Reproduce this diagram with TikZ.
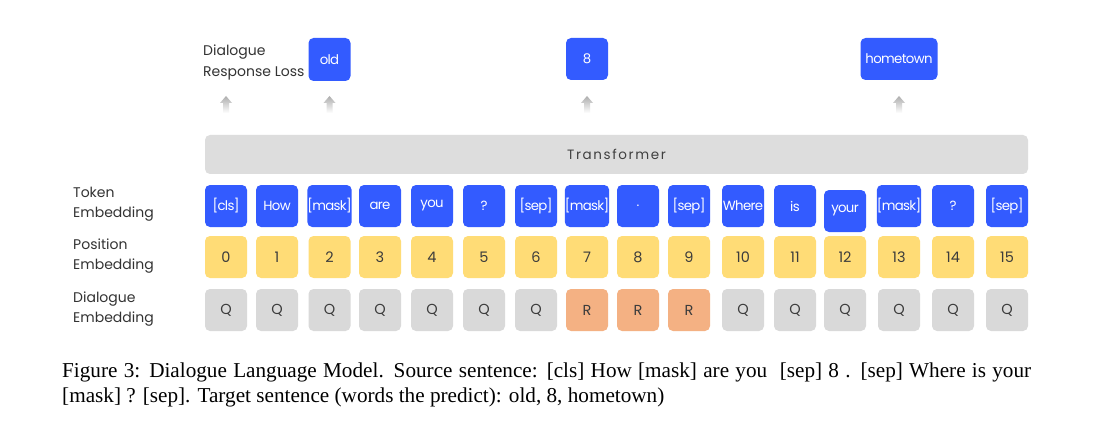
\documentclass[tikz,border=0pt]{standalone}
\usepackage{fontspec}
\setmainfont{Liberation Serif}
\newfontfamily\gothic{Poppins}
\newfontfamily\gothictight[LetterSpace=-5]{Poppins}
\newfontfamily\gothicwide[LetterSpace=12]{Poppins}
\definecolor{tokenblue}{RGB}{51, 91, 255}
\definecolor{posyellow}{RGB}{255, 220, 118}
\definecolor{resporange}{RGB}{244, 177, 131}
\definecolor{querygray}{RGB}{217, 217, 217}
\definecolor{bargray}{RGB}{221, 221, 221}
\definecolor{celltext}{RGB}{60, 60, 60}
\usetikzlibrary{positioning,shapes,arrows,calc}

\tikzset{
    cell/.style={rounded corners=5pt, minimum width=42pt, minimum height=42pt, inner sep=0pt},
    tokencell/.style={cell, fill=tokenblue, text=white, font=\gothictight\fontsize{13.3}{13.3}\selectfont},
    poscell/.style={cell, fill=posyellow, text=celltext, font=\gothic\fontsize{14.5}{14.5}\selectfont},
    qcell/.style={cell, fill=querygray, text=celltext, font=\gothic\fontsize{14.5}{14.5}\selectfont},
    rcell/.style={cell, fill=resporange, text=celltext, font=\gothic\fontsize{14.5}{14.5}\selectfont},
    rowlabel/.style={anchor=west, align=left, inner sep=0pt, text=black!80, font=\gothic\fontsize{14}{20.5}\selectfont},
    fadearrow/.style={top color=black!32, bottom color=white, draw=none},
}

\begin{document}
\begin{tikzpicture}[x=1pt, y=-1pt]
    \useasboundingbox[fill=white] (0,0) rectangle (1114,433);

    % transformer block
    \node[rounded corners=5pt, fill=bargray, minimum width=823pt, minimum height=39pt, inner sep=0pt,
          font=\gothicwide\fontsize{13.5}{13.5}\selectfont, text=black!75] (transformer) at (616.5,154.5) {Transformer};

    % row labels
    \node[rowlabel] (lbl-token) at (73,204) {Token\\Embedding};
    \node[rowlabel] (lbl-pos) at (73,256) {Position\\Embedding};
    \node[rowlabel] (lbl-dlg) at (73,309) {Dialogue\\Embedding};
    \node[rowlabel] (lbl-loss) at (203,62.5) {Dialogue\\Response Loss};

    % token, position and dialogue rows
    \foreach \i/\x/\tok/\dy in {0/226/{[cls]}/0, 1/277/How/0, 2/329.5/{[mask]}/0, 3/380/are/0,
                               4/432/you/0, 5/484/?/0, 6/536/{[sep]}/0, 7/587/{[mask]}/0,
                               8/638/./0, 9/689/{[sep]}/0, 10/743/Where/0, 11/795/is/0,
                               12/845/your/5, 13/899/{[mask]}/0, 14/953/?/0, 15/1007/{[sep]}/0} {
        \node[tokencell] (t\i) at (\x,206+\dy) {\tok};
        \node[poscell] (p\i) at (\x,257) {\i};
    }
    \foreach \i in {0,...,6,10,11,...,15}
        \node[qcell] (d\i) at (p\i |- 0,310) {Q};
    \foreach \i in {7,8,9}
        \node[rcell] (d\i) at (p\i |- 0,310) {R};

    % predicted words
    \node[tokencell, minimum height=43pt] (out-old) at (t2 |- 0,59.5) {old};
    \node[tokencell] (out-8) at (t7 |- 0,59) {8};
    \node[tokencell, minimum width=77pt] (out-home) at (t13 |- 0,59) {hometown};

    % faded up arrows
    \foreach \i in {0,2,7,13} {
        \coordinate (tip\i) at (t\i |- 0,96);
        \shade[fadearrow] (tip\i) -- ++(6,7) -- ++(-3,0) -- ++(0,10) -- ++(-6,0) -- ++(0,-10) -- ++(-3,0) -- cycle;
    }

    % caption
    \node[anchor=base west, inner sep=0pt, font=\fontsize{21.2}{26}\selectfont] (cap1) at (62,377)
        {\makebox[969pt][s]{Figure 3: Dialogue Language Model. Source sentence: [cls] How [mask] are you \ [sep] 8 . [sep] Where is your}};
    \node[anchor=base west, inner sep=0pt, font=\fontsize{21.2}{26}\selectfont] (cap2) at (62,402)
        {[mask] ? [sep]. Target sentence (words the predict): old, 8, hometown)};
\end{tikzpicture}
\end{document}
